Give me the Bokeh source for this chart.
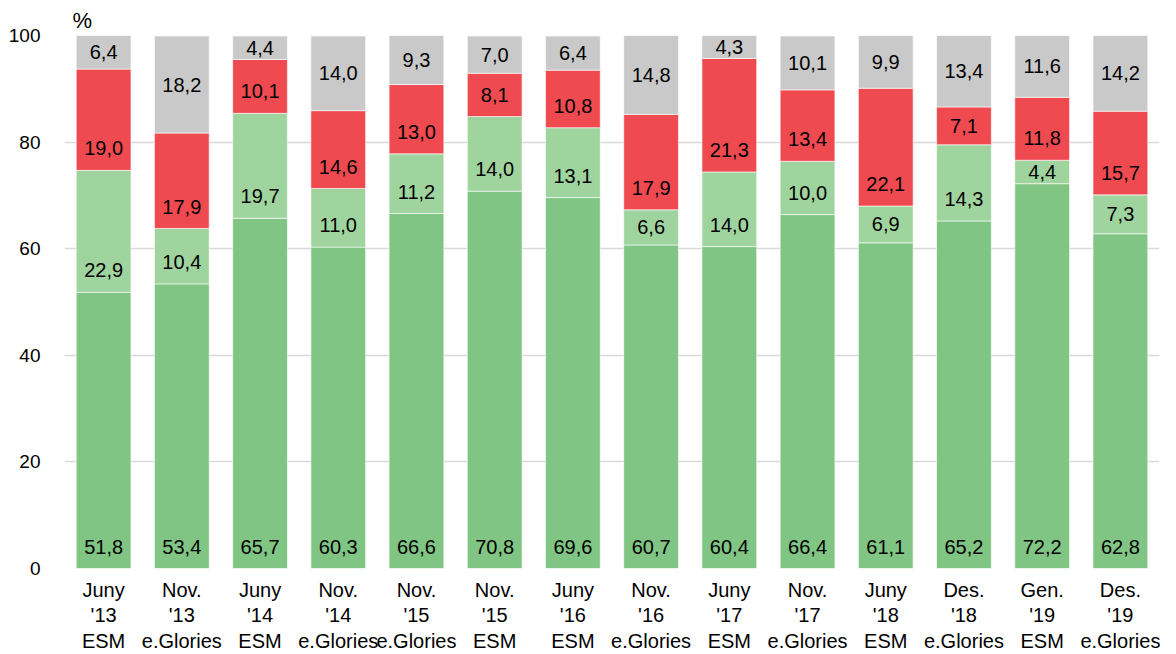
from bokeh.plotting import figure
from bokeh.models import ColumnDataSource, FactorRange, Title
from bokeh.core.properties import value
from bokeh.embed import file_html
from bokeh.resources import INLINE

months = ["Juny", "Nov.", "Juny", "Nov.", "Nov.", "Nov.", "Juny", "Nov.", "Juny", "Nov.", "Juny", "Des.", "Gen.", "Des."]
years = ["'13", "'13", "'14", "'14", "'15", "'15", "'16", "'16", "'17", "'17", "'18", "'18", "'19", "'19"]
sources = ["ESM", "e.Glories", "ESM", "e.Glories", "e.Glories", "ESM", "ESM", "e.Glories", "ESM", "e.Glories", "ESM", "e.Glories", "ESM", "e.Glories"]

dark_green = [51.8, 53.4, 65.7, 60.3, 66.6, 70.8, 69.6, 60.7, 60.4, 66.4, 61.1, 65.2, 72.2, 62.8]
light_green = [22.9, 10.4, 19.7, 11.0, 11.2, 14.0, 13.1, 6.6, 14.0, 10.0, 6.9, 14.3, 4.4, 7.3]
red = [19.0, 17.9, 10.1, 14.6, 13.0, 8.1, 10.8, 17.9, 21.3, 13.4, 22.1, 7.1, 11.8, 15.7]
grey = [6.4, 18.2, 4.4, 14.0, 9.3, 7.0, 6.4, 14.8, 4.3, 10.1, 9.9, 13.4, 11.6, 14.2]

y_ticks = [0, 20, 40, 60, 80, 100]

series = [dark_green, light_green, red, grey]
colors = ["#80C583", "#A0D49F", "#F04A51", "#C9C9C9"]
keys = ["s0", "s1", "s2", "s3"]

cats = [f"{m}\n{y}\n{s}" for m, y, s in zip(months, years, sources)]

data = {"cat": cats}
for k, s in zip(keys, series):
    data[k] = s
src = ColumnDataSource(data)

FONT = "Liberation Sans"

p = figure(x_range=FactorRange(*cats), y_range=(0, 100), width=1160, height=654,
           output_backend="svg", toolbar_location=None,
           min_border_left=64, min_border_right=1, min_border_top=35, min_border_bottom=60)

p.vbar_stack(keys, x="cat", width=0.70, color=colors, source=src,
             line_color="white", line_width=0.6)

# value labels
lx, ly, lt = [], [], []
px_per_unit = 5.35
off = 22 / px_per_unit
for i, c in enumerate(cats):
    base = 0.0
    for j, s in enumerate(series):
        h = s[i]
        if j == 3:
            y = base + h / 2
        else:
            y = base + min(off, h / 2)
        lx.append(c)
        ly.append(y)
        lt.append(f"{h:.1f}".replace(".", ","))
        base += h
p.text(x=lx, y=ly, text=lt, text_align="center", text_baseline="middle",
       text_font=value(FONT), text_font_size="20px", text_color="#000000")

p.yaxis.ticker = y_ticks
p.yaxis.axis_line_color = None
p.yaxis.major_tick_line_color = None
p.yaxis.minor_tick_line_color = None
p.yaxis.major_label_text_font = FONT
p.yaxis.major_label_text_font_size = "19px"
p.yaxis.major_label_text_color = "#000000"
p.yaxis.major_label_standoff = 18

p.xaxis.axis_line_color = None
p.xaxis.major_tick_line_color = None
p.xaxis.major_label_text_font = FONT
p.xaxis.major_label_text_font_size = "20px"
p.xaxis.major_label_text_color = "#000000"
p.xaxis.major_label_standoff = 4
p.xaxis.major_label_text_line_height = 1.17

p.xgrid.grid_line_color = None
p.ygrid.grid_line_color = "#D9D9D9"
p.ygrid.grid_line_width = 1.5
p.ygrid.ticker = y_ticks
p.outline_line_color = None

p.title = Title(text="%", align="left", offset=8, standoff=6,
                text_font=FONT, text_font_size="22px", text_font_style="normal",
                text_color="#000000")

open("out.html", "w").write(file_html(p, INLINE))
